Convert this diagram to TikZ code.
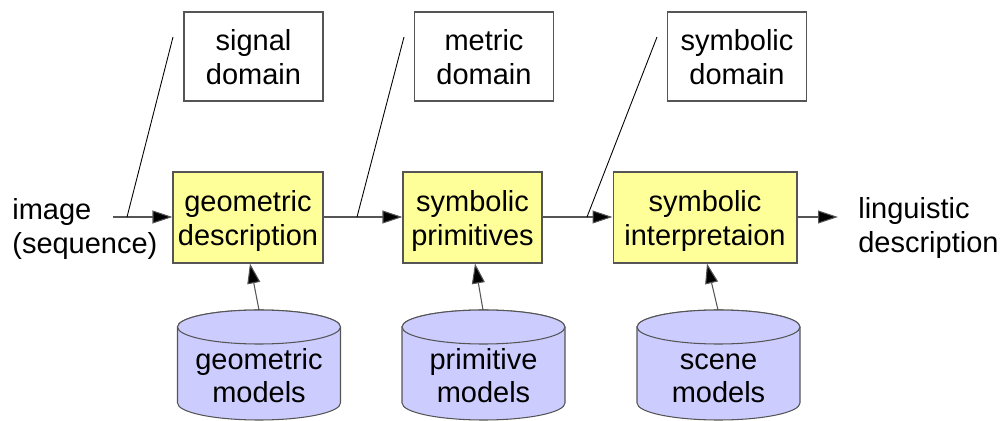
\documentclass[tikz,border=0pt]{standalone}
\usepackage{fontspec}
\setmainfont{Liberation Sans}
\usetikzlibrary{arrows.meta}
\definecolor{boxyellow}{HTML}{FFFF99}
\definecolor{cylblue}{HTML}{CCCCFF}
\definecolor{edgegray}{HTML}{555555}
\newcommand{\lf}{\rule[-0.22em]{0pt}{1.2em}}
\newcommand{\ls}{\rule[-0.22em]{0pt}{0.85em}}
\begin{document}
\begin{tikzpicture}[x=0.02cm,y=-0.02cm,
  every node/.style={font=\fontsize{16.5pt}{18.8pt}\selectfont, align=center, inner sep=0pt},
  procbox/.style={draw=edgegray, fill=boxyellow, minimum height=1.82cm, line width=0.6pt},
  domainbox/.style={draw=edgegray, fill=white, minimum width=2.78cm, minimum height=1.78cm, line width=0.6pt},
  plain/.style={align=left},
  flow/.style={draw=edgegray, line width=0.6pt, -{Triangle[length=0.4cm,width=0.26cm,fill=black]}},
  lead/.style={draw=black, line width=0.5pt},
  cyl/.style={draw=edgegray, fill=cylblue, line width=0.6pt}
]
\useasboundingbox (0,0) rectangle (1000,421);

% domain boxes
\node[domainbox] (d1) at (253.5,56.5) {\lf signal\\\ls domain};
\node[domainbox] (d2) at (484,56.5) {\lf metric\\\ls domain};
\node[domainbox] (d3) at (737,56.5) {\lf symbolic\\\ls domain};

% process boxes
\node[procbox, minimum width=3cm] (p1) at (248,217.5) {\lf geometric\\\ls description};
\node[procbox, minimum width=2.78cm] (p2) at (472.5,217.5) {\lf symbolic\\\ls primitives};
\node[procbox, minimum width=3.68cm] (p3) at (705,217.5) {\lf symbolic\\\ls interpretaion};

% outer texts
\node[plain, anchor=west] (in) at (12,225.5) {\lf image\\\ls (sequence)};
\node[plain, anchor=west] (out) at (858,224.5) {\lf linguistic\\\ls description};

% cylinders
\foreach \n/\cx/\lab in {c1/259/{\lf geometric\\\ls models}, c2/483.5/{\lf primitive\\\ls models}, c3/718.5/{\lf scene\\\ls models}}{
  \path[cyl] (\cx-81.5,327) -- (\cx-81.5,403) arc[start angle=180,end angle=0,x radius=81.5,y radius=17]
     -- (\cx+81.5,327) arc[start angle=0,end angle=-180,x radius=81.5,y radius=17] -- cycle;
  \path[cyl] (\cx,327) ellipse[x radius=81.5,y radius=17];
  \node (\n) at (\cx,375) {\lab};
}
\coordinate (c1top) at (259,310);
\coordinate (c2top) at (483,310);
\coordinate (c3top) at (718,310);

% flow connectors
\coordinate (inStart) at (113,217);
\draw[flow] (inStart) -- (p1.west |- inStart);
\draw[flow] (p1.east |- inStart) -- (p2.west |- inStart);
\draw[flow] (p2.east |- inStart) -- (p3.west |- inStart);
\coordinate (outEnd) at (838,217);
\draw[flow] (p3.east |- outEnd) -- (outEnd);

% model arrows
\draw[flow] (c1top) -- (p1.south -| 250,0);
\draw[flow] (c2top) -- (p2.south -| 475,0);
\draw[flow] (c3top) -- (p3.south -| 707,0);

% domain leader lines
\coordinate (l1a) at (127,217); \coordinate (l1b) at (173,37);
\coordinate (l2a) at (357,217); \coordinate (l2b) at (404,37);
\coordinate (l3a) at (587,217); \coordinate (l3b) at (657,37);
\draw[lead] (l1a) -- (l1b);
\draw[lead] (l2a) -- (l2b);
\draw[lead] (l3a) -- (l3b);
\end{tikzpicture}
\end{document}
